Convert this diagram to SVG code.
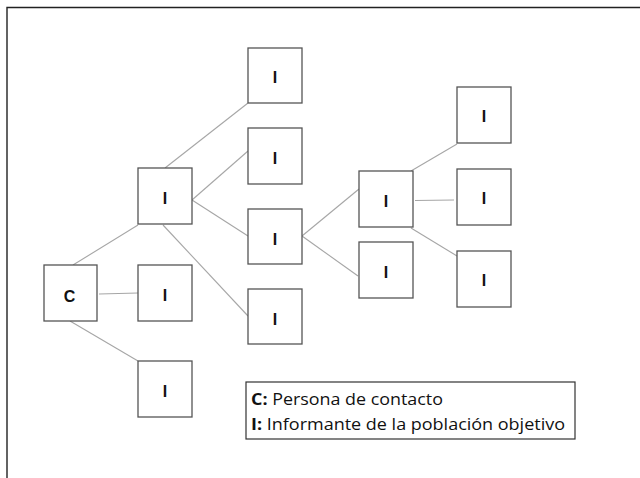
<svg xmlns="http://www.w3.org/2000/svg" width="640" height="478" viewBox="0 0 640 478">
<style>
.box{fill:#fff;stroke:#555;stroke-width:1.3}
.lbl{font-family:"Liberation Sans",Arial,sans-serif;font-weight:bold;font-size:16px;fill:#111;text-anchor:middle;dominant-baseline:central}
.conn line{stroke:#a6a6a6;stroke-width:1.1}
.leg{font-family:"Open Sans","Liberation Sans",sans-serif;font-size:16px;fill:#111}
</style>
<rect width="640" height="478" fill="#fff"/>
<path d="M7,478 V7.5 H640" fill="none" stroke="#222" stroke-width="1.4"/>
<g class="conn" id="connectors">
<line x1="73" y1="265" x2="138" y2="225"/>
<line x1="99" y1="294" x2="138" y2="293"/>
<line x1="70" y1="321" x2="138" y2="361"/>
<line x1="165" y1="168" x2="248" y2="103"/>
<line x1="192" y1="200" x2="248" y2="151"/>
<line x1="192" y1="200" x2="248" y2="236"/>
<line x1="163" y1="225" x2="248" y2="316"/>
<line x1="302" y1="236" x2="359" y2="189"/>
<line x1="302" y1="236" x2="358" y2="276"/>
<line x1="411" y1="171" x2="457" y2="144"/>
<line x1="415" y1="200.5" x2="454" y2="200"/>
<line x1="411" y1="228" x2="457" y2="256"/>
</g>
<g id="nC"><rect class="box" x="44" y="265" width="53" height="56"/><text class="lbl" x="69.5" y="296">C</text></g>
<g id="n1"><rect class="box" x="138" y="168" width="54" height="56"/><text class="lbl" x="165" y="198.5">I</text></g>
<g id="n2"><rect class="box" x="138" y="265" width="54" height="56"/><text class="lbl" x="165" y="295">I</text></g>
<g id="n3"><rect class="box" x="138" y="361" width="54" height="56"/><text class="lbl" x="165" y="391">I</text></g>
<g id="n4"><rect class="box" x="248" y="48" width="54" height="55"/><text class="lbl" x="275" y="77.5">I</text></g>
<g id="n5"><rect class="box" x="248" y="128" width="54" height="56"/><text class="lbl" x="275" y="158">I</text></g>
<g id="n6"><rect class="box" x="248" y="209" width="54" height="55"/><text class="lbl" x="275" y="239">I</text></g>
<g id="n7"><rect class="box" x="248" y="289" width="54" height="55"/><text class="lbl" x="275" y="319">I</text></g>
<g id="n8"><rect class="box" x="359" y="171" width="54" height="56"/><text class="lbl" x="386" y="201">I</text></g>
<g id="n9"><rect class="box" x="359" y="242" width="54" height="56"/><text class="lbl" x="386" y="272">I</text></g>
<g id="n10"><rect class="box" x="457" y="87" width="54" height="56"/><text class="lbl" x="484" y="116.5">I</text></g>
<g id="n11"><rect class="box" x="457" y="169" width="54" height="56"/><text class="lbl" x="484" y="198.5">I</text></g>
<g id="n12"><rect class="box" x="457" y="251" width="54" height="56"/><text class="lbl" x="484" y="280.5">I</text></g>
<g id="legend">
<rect x="246" y="382" width="329" height="57" fill="#fff" stroke="#333" stroke-width="1.2"/>
<text class="leg" x="251" y="405" textLength="192" lengthAdjust="spacingAndGlyphs"><tspan font-weight="bold">C:</tspan> Persona de contacto</text>
<text class="leg" x="251" y="430" textLength="314" lengthAdjust="spacingAndGlyphs"><tspan font-weight="bold">I:</tspan> Informante de la población objetivo</text>
</g>
</svg>
